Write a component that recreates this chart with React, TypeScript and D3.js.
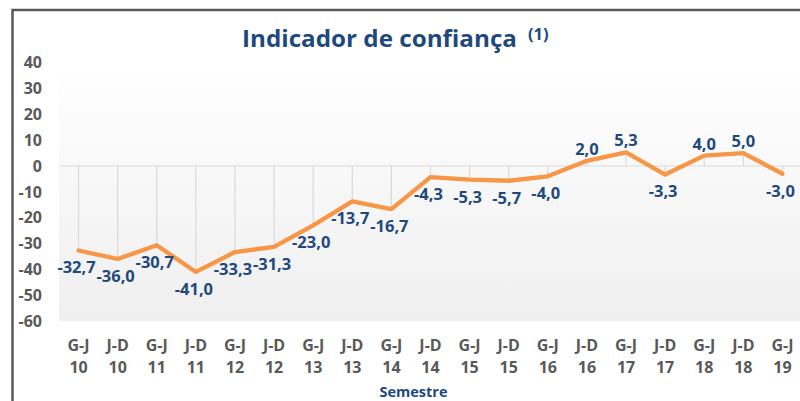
import React from "react";
import * as d3 from "d3";

const periods = ["G-J","J-D","G-J","J-D","G-J","J-D","G-J","J-D","G-J","J-D","G-J","J-D","G-J","J-D","G-J","J-D","G-J","J-D","G-J"];
const years = ["10","10","11","11","12","12","13","13","14","14","15","15","16","16","17","17","18","18","19"];
const values = [-32.7,-36.0,-30.7,-41.0,-33.3,-31.3,-23.0,-13.7,-16.7,-4.3,-5.3,-5.7,-4.0,2.0,5.3,-3.3,4.0,5.0,-3.0];
const yTicks = [40,30,20,10,0,-10,-20,-30,-40,-50,-60];

const W = 800, H = 401;
const FONT = "'Open Sans', 'Noto Sans', sans-serif";
const BLUE = "#1F497D";
const GRAY = "#595959";

export default function App() {
  const idx = values.map((_, i) => String(i));
  const x = d3.scaleBand<string>().domain(idx).range([59, 802]);
  const cx = (i: number) => (x(String(i)) as number) + x.bandwidth() / 2;
  const y = d3.scaleLinear().domain([-60, 40]).range([321, 62.7]);
  const line = d3.line<number>().x((_, i) => cx(i)).y(d => y(d));
  const fmt = (v: number) => v.toFixed(1).replace(".", ",");

  return (
    <svg width={W} height={H} style={{ position: "absolute", left: 0, top: 0, display: "block", background: "#fff" }} fontFamily={FONT}>
      <defs>
        <linearGradient id="pa" x1="0" y1="0" x2="0" y2="1">
          <stop offset="0%" stopColor="#ffffff" />
          <stop offset="100%" stopColor="#efefef" />
        </linearGradient>
      </defs>
      <rect x={0} y={0} width={W} height={H} fill="#fff" />
      <rect x={59} y={y(40)} width={W - 59} height={y(-60) - y(40)} fill="url(#pa)" />
      {values.map((v, i) => (
        <line key={"d" + i} x1={cx(i)} x2={cx(i)} y1={y(0)} y2={y(v)} stroke="#d9d9d9" strokeWidth={1.2} />
      ))}
      <line x1={59} x2={W} y1={y(0)} y2={y(0)} stroke="#d9d9d9" strokeWidth={1.2} />
      {yTicks.map(t => (
        <text key={"t" + t} x={42} y={y(t)} dy="0.36em" textAnchor="end" fontSize={16} fontWeight="bold" fill={GRAY}>{t}</text>
      ))}
      <path d={line(values) || ""} fill="none" stroke="#F79646" strokeWidth={4.3} strokeLinejoin="round" strokeLinecap="round" />
      {values.map((v, i) => (
        <text key={"l" + i} x={cx(i) - (v < 0 ? 2 : 0)} y={v > 0 ? y(v) - 12 : y(v) + 17} dy="0.36em" textAnchor="middle" fontSize={16.5} fontWeight="bold" fill={BLUE}>{fmt(v)}</text>
      ))}
      {periods.map((p, i) => (
        <g key={"c" + i}>
          <text x={cx(i)} y={345} dy="0.36em" textAnchor="middle" fontSize={16} fontWeight="bold" fill={GRAY}>{p}</text>
          <text x={cx(i)} y={367} dy="0.36em" textAnchor="middle" fontSize={16} fontWeight="bold" fill={GRAY}>{years[i]}</text>
        </g>
      ))}
      <text x={413.5} y={397} textAnchor="middle" fontSize={14.5} fontWeight="bold" fill={BLUE}>Semestre</text>
      <text x={242} y={47} fontSize={23.5} fontWeight="bold" fill={BLUE} textLength={275} lengthAdjust="spacingAndGlyphs">Indicador de confiança</text>
      <text x={528} y={40} fontSize={16.5} fontWeight="bold" fill={BLUE}>(1)</text>
      <path d={`M12.5,${H} L12.5,10 L${W},10`} fill="none" stroke={GRAY} strokeWidth={2.5} />
    </svg>
  );
}
